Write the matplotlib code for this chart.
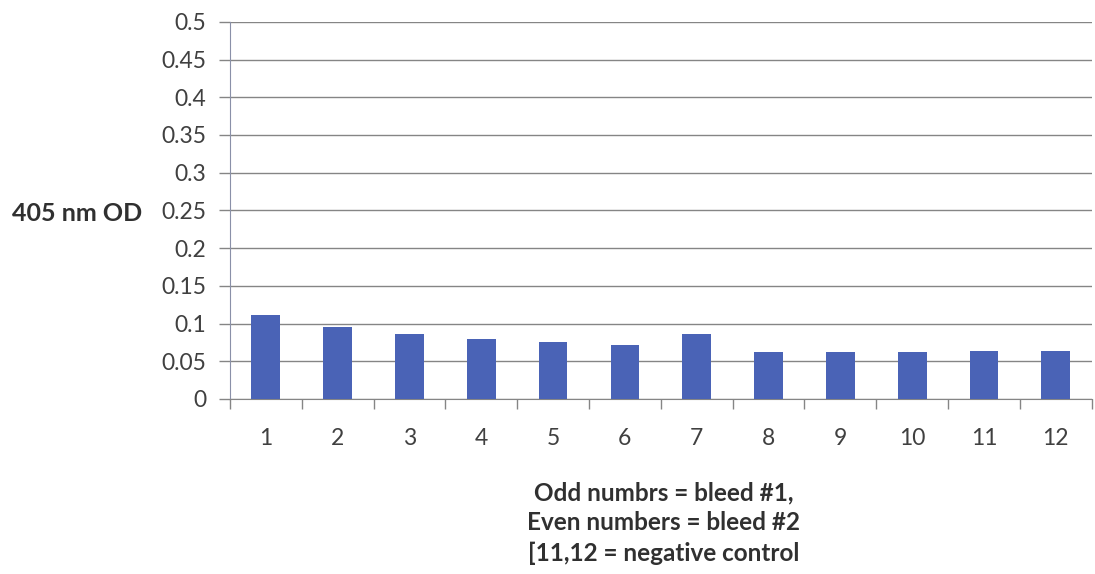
import matplotlib
matplotlib.use("Agg")
import matplotlib.pyplot as plt
import numpy as np

# ELISA readings per sample
samples = ["1", "2", "3", "4", "5", "6", "7", "8", "9", "10", "11", "12"]
od_405 = [0.111, 0.096, 0.086, 0.080, 0.076, 0.071, 0.086, 0.062, 0.062, 0.062, 0.063, 0.063]
y_ticks = [0, 0.05, 0.1, 0.15, 0.2, 0.25, 0.3, 0.35, 0.4, 0.45, 0.5]
y_tick_labels = ["0", "0.05", "0.1", "0.15", "0.2", "0.25", "0.3", "0.35", "0.4", "0.45", "0.5"]
note_lines = ["Odd numbrs = bleed #1,", "Even numbers = bleed #2", "[11,12 = negative control"]

plt.rcParams["font.family"] = ["Lato", "DejaVu Sans"]

fig = plt.figure(figsize=(10.95, 5.74), dpi=100)
ax = fig.add_axes([0.210, 0.305, 0.787, 0.657])

x = np.arange(len(samples))
ax.bar(x, od_405, width=0.4, color="#4a63b6", zorder=3)

ax.set_xlim(-0.5, len(samples) - 0.5)
ax.set_ylim(0, 0.5)
ax.set_yticks(y_ticks)
ax.set_yticklabels(y_tick_labels, fontsize=16.5, color="#404040")
ax.yaxis.grid(True, color="#858585", linewidth=1.0, zorder=0)

# category labels centred, tick marks on category boundaries
ax.set_xticks(x)
ax.set_xticklabels(samples, fontsize=16.5, color="#404040")
ax.tick_params(axis="x", length=0, pad=21)
ax.set_xticks(np.arange(-0.5, len(samples)), minor=True)
ax.tick_params(axis="x", which="minor", length=7, color="#858585", width=1.0)
ax.tick_params(axis="y", length=8, color="#858585", width=1.0, pad=9)

for side in ["top", "right"]:
    ax.spines[side].set_visible(False)
ax.spines["left"].set_color("#8a90a8")
ax.spines["bottom"].set_color("#858585")

fig.text(0.070, 0.628, "405 nm OD", fontsize=18, fontweight="bold",
         color="#303030", ha="center", va="center")

for i, line in enumerate(note_lines):
    fig.text(0.606, 1 - (493 + 30 * i) / 574, line, fontsize=17.5,
             fontweight="bold", color="#303030", ha="center", va="center")

fig.savefig("out.png", dpi=100, facecolor="white")
